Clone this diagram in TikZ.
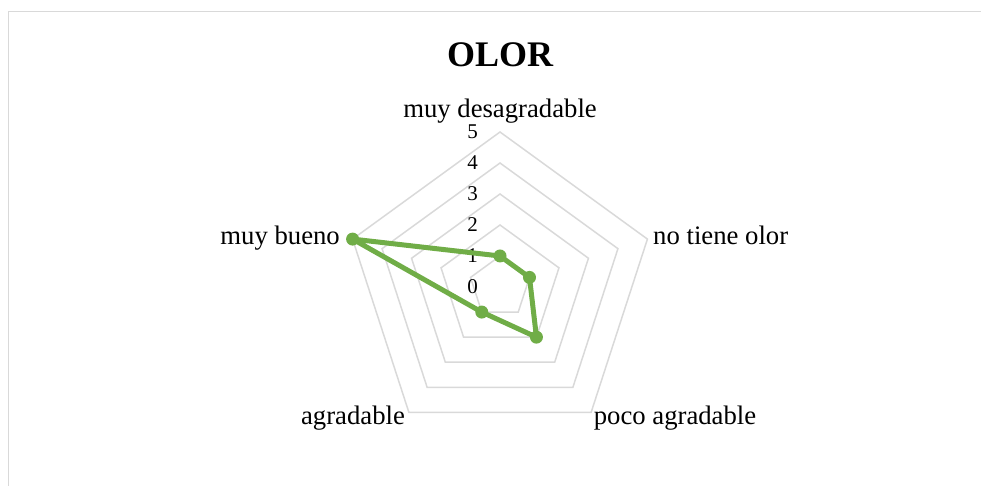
\documentclass[tikz,border=0pt]{standalone}
\usepackage{fontspec}
\setmainfont{Liberation Serif}
\usetikzlibrary{positioning}
\definecolor{gridgray}{HTML}{D9D9D9}
\definecolor{serie}{HTML}{70AD47}

\begin{document}
\begin{tikzpicture}[x=1pt,y=1pt,
    grid/.style={draw=gridgray,line width=1.5pt},
    dot/.style={circle,fill=serie,inner sep=0pt,minimum size=13pt},
    cat/.style={font=\fontsize{26.7}{30}\selectfont,inner sep=0pt},
    tick/.style={font=\fontsize{21}{24}\selectfont,anchor=east,inner sep=0pt}]

        \useasboundingbox (0,0) rectangle (981,486);
        \draw[grid] (8.5,0) |- (981,474.5);

        \coordinate (O) at (500,199);

        % grid
        \foreach \r in {1,...,5}
            \draw[grid,line join=miter] ([shift={(90:31*\r)}]O) -- ([shift={(18:31*\r)}]O)
                -- ([shift={(-54:31*\r)}]O) -- ([shift={(-126:31*\r)}]O)
                -- ([shift={(162:31*\r)}]O) -- cycle;

        \foreach \k in {0,...,5}
            \node[tick] (t\k) at (478,199+31*\k) {\k};

        \node[font=\fontsize{36}{40}\selectfont\bfseries,anchor=base] (title) at (500,419) {OLOR};
        \node[cat,anchor=base]      (c1) at (500,368) {muy desagradable};
        \node[cat,anchor=base west] (c2) at (653,241) {no tiene olor};
        \node[cat,anchor=base]      (c3) at (675,61)  {poco agradable};
        \node[cat,anchor=base]      (c4) at (353,61)  {agradable};
        \node[cat,anchor=base east] (c5) at (340,241) {muy bueno};

        % data
        \foreach \a/\v/\n in {90/1/a, 18/1/b, -54/2/c, -126/1/d, 162/5/e}
            \path (O) ++(\a:31*\v) coordinate (\n);
        \draw[serie,line width=5pt,line join=round] (a) -- (b) -- (c) -- (d) -- (e) -- cycle;
        \foreach \n in {a,...,e}
            \node[dot] (m\n) at (\n) {};
\end{tikzpicture}
\end{document}
